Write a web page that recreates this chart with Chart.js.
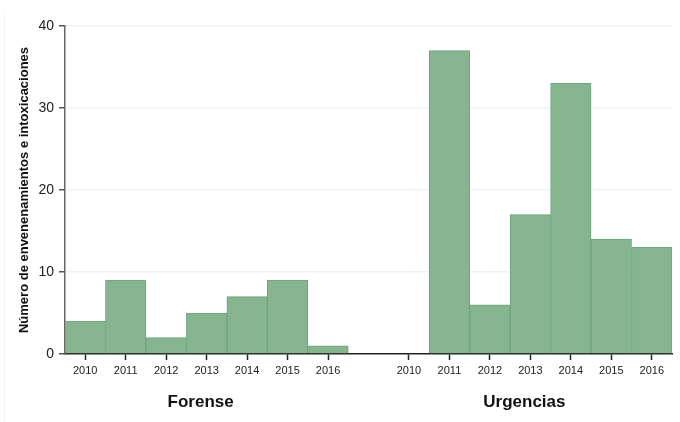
<!DOCTYPE html>
<html lang="es">
<head>
  <meta charset="UTF-8" />
  <title>Envenenamientos e intoxicaciones</title>
  <script src="https://cdn.jsdelivr.net/npm/chart.js"></script>
  <style>
    html, body { margin: 0; padding: 0; background: #fff; }
    .wrap {
      position: relative;
      width: 680px;
      height: 422px;
    }
    .frame {
      position: absolute;
      left: 4px; top: 14px; width: 1px; height: 408px;
      background: #edf4ee;
      pointer-events: none;
    }
  </style>
</head>
<body>
  <div class="wrap">
    <div class="frame"></div>
    <canvas id="chart" width="680" height="422"></canvas>
  </div>
  <script>
    const years = ["2010", "2011", "2012", "2013", "2014", "2015", "2016"];
    const groups = ["Forense", "Urgencias"];
    const forense = [4, 9, 2, 5, 7, 9, 1];
    const urgencias = [0, 37, 6, 17, 33, 14, 13];
    const yTicks = [0, 10, 20, 30, 40];

    // one empty slot between the two groups
    const labels = [...years, "", ...years];
    const values = [...forense, null, ...urgencias];

    const groupLabels = {
      id: "groupLabels",
      afterDraw(chart) {
        const { ctx, scales: { x } } = chart;
        ctx.save();
        ctx.font = "bold 17px 'Liberation Sans', Arial, sans-serif";
        ctx.fillStyle = "#111";
        ctx.textAlign = "center";
        ctx.textBaseline = "middle";
        const n = years.length;
        groups.forEach((g, i) => {
          const first = x.getPixelForValue(i * (n + 1));
          const last = x.getPixelForValue(i * (n + 1) + n - 1);
          ctx.fillText(g, (first + last) / 2 - 6, 402);
        });
        ctx.restore();
      }
    };

    new Chart(document.getElementById("chart"), {
      type: "bar",
      data: {
        labels: labels,
        datasets: [{
          data: values,
          backgroundColor: "#86b590",
          borderColor: "#6ea57a",
          borderWidth: 1,
          barPercentage: 1,
          categoryPercentage: 1
        }]
      },
      options: {
        responsive: false,
        animation: false,
        layout: { padding: { left: 0, right: 8, top: 26, bottom: 0 } },
        plugins: {
          legend: { display: false },
          tooltip: { enabled: false }
        },
        scales: {
          x: {
            afterFit: s => { s.height = 68; },
            grid: {
              offset: false,
              drawOnChartArea: false,
              tickLength: 6,
              tickWidth: 1.5,
              tickColor: ctx => labels[ctx.index] === "" ? "rgba(0,0,0,0)" : "#222"
            },
            border: { color: "#222", width: 1.5 },
            ticks: {
              color: "#222",
              font: { size: 11, family: "'Liberation Sans', Arial, sans-serif" },
              maxRotation: 0,
              autoSkip: false,
              padding: 4
            }
          },
          y: {
            min: 0,
            max: 40,
            afterFit: s => { s.width = 65; },
            afterBuildTicks: s => { s.ticks = yTicks.map(v => ({ value: v })); },
            grid: {
              color: ctx => ctx.tick && ctx.tick.value === 0 ? "rgba(0,0,0,0)" : "#edf2f3",
              lineWidth: 1.5,
              tickLength: 6,
              tickWidth: 1.5,
              tickColor: "#555"
            },
            border: { color: "#666", width: 1.5 },
            ticks: {
              color: "#222",
              font: { size: 14, family: "'Liberation Sans', Arial, sans-serif" },
              padding: 5
            },
            title: {
              display: true,
              text: "Número de envenenamientos e intoxicaciones",
              color: "#111",
              font: { size: 13, weight: "bold", family: "'Liberation Sans', Arial, sans-serif" },
              padding: { top: 17, bottom: 0 }
            }
          }
        }
      },
      plugins: [groupLabels]
    });
  </script>
</body>
</html>
